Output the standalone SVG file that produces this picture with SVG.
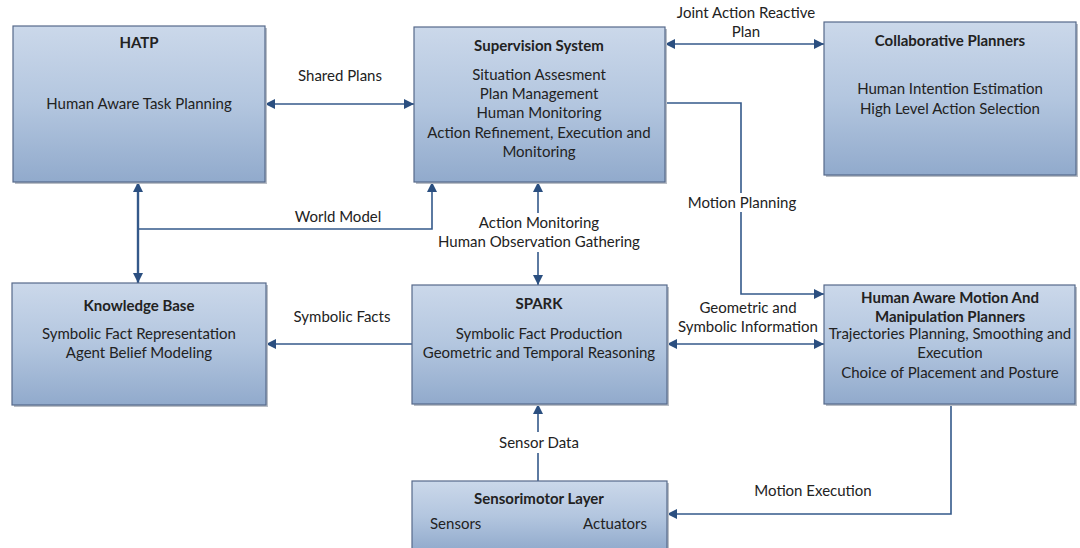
<svg xmlns="http://www.w3.org/2000/svg" width="1080" height="548" viewBox="0 0 1080 548">
<style>
.box{fill:url(#g);stroke:#56698a;stroke-width:1.2}
.sh{fill:#b9bec6}
.t{font-family:Lato,"Open Sans",sans-serif;font-size:15px;fill:#222;text-anchor:middle}
.b{font-weight:bold}
.c{fill:none;stroke:#34598a;stroke-width:1.6}
.k{stroke-width:2.4}
</style>
<defs>
<linearGradient id="g" x1="0" y1="0" x2="0" y2="1">
<stop offset="0" stop-color="#cbd8ea"/>
<stop offset="0.5" stop-color="#b3c6df"/>
<stop offset="1" stop-color="#91aacc"/>
</linearGradient>
<marker id="a2" viewBox="0 0 10 10" refX="10" refY="5" markerWidth="10" markerHeight="10" orient="auto-start-reverse" markerUnits="userSpaceOnUse">
<path d="M0,0 L10,5 L0,10 z" fill="#2b4f80"/>
</marker>
</defs>
<rect width="1080" height="548" fill="#ffffff"/>

<g id="connectors">
<path class="c" d="M265,104 H414" marker-start="url(#a2)" marker-end="url(#a2)"/>
<path class="c" d="M665,44 H824" marker-start="url(#a2)" marker-end="url(#a2)"/>
<path class="c" d="M665,103 H741 V193"/>
<path class="c" d="M741,212 V294 H824" marker-end="url(#a2)"/>
<path class="c k" d="M138,182 V283" marker-start="url(#a2)" marker-end="url(#a2)"/>
<path class="c" d="M138,229 H432 V182" marker-end="url(#a2)"/>
<path class="c" d="M538,213 V182" marker-end="url(#a2)"/>
<path class="c" d="M538,252 V285" marker-end="url(#a2)"/>
<path class="c" d="M412,344 H266" marker-end="url(#a2)"/>
<path class="c" d="M667,344 H824" marker-start="url(#a2)" marker-end="url(#a2)"/>
<path class="c" d="M538,481 V453"/>
<path class="c" d="M538,432 V404" marker-end="url(#a2)"/>
<path class="c" d="M951,404 V514 H667" marker-end="url(#a2)"/>
<text class="t" x="340" y="81">Shared Plans</text>
<text class="t" x="746" y="18">Joint Action Reactive</text>
<text class="t" x="746" y="37">Plan</text>
<text class="t" x="742" y="208">Motion Planning</text>
<text class="t" x="338" y="222">World Model</text>
<text class="t" x="539" y="228">Action Monitoring</text>
<text class="t" x="539" y="247">Human Observation Gathering</text>
<text class="t" x="342" y="322">Symbolic Facts</text>
<text class="t" x="748" y="313">Geometric and</text>
<text class="t" x="748" y="332">Symbolic Information</text>
<text class="t" x="539" y="448">Sensor Data</text>
<text class="t" x="813" y="496">Motion Execution</text>
</g>

<g id="hatp">
<rect class="sh" x="15" y="28" width="252" height="156"/>
<rect class="box" x="13" y="26" width="252" height="156"/>
<text class="t b" x="139" y="48">HATP</text>
<text class="t" x="139" y="109">Human Aware Task Planning</text>
</g>

<g id="supervision">
<rect class="sh" x="416" y="29" width="251" height="155"/>
<rect class="box" x="414" y="27" width="251" height="155"/>
<text class="t b" x="539" y="51">Supervision System</text>
<text class="t" x="539" y="80">Situation Assesment</text>
<text class="t" x="539" y="99">Plan Management</text>
<text class="t" x="539" y="118">Human Monitoring</text>
<text class="t" x="539" y="138">Action Refinement, Execution and</text>
<text class="t" x="539" y="157">Monitoring</text>
</g>

<g id="collaborative">
<rect class="sh" x="826" y="24" width="252" height="153"/>
<rect class="box" x="824" y="22" width="252" height="153"/>
<text class="t b" x="950" y="46">Collaborative Planners</text>
<text class="t" x="950" y="94">Human Intention Estimation</text>
<text class="t" x="950" y="114">High Level Action Selection</text>
</g>

<g id="knowledge">
<rect class="sh" x="14" y="285" width="254" height="122"/>
<rect class="box" x="12" y="283" width="254" height="122"/>
<text class="t b" x="139" y="311">Knowledge Base</text>
<text class="t" x="139" y="339">Symbolic Fact Representation</text>
<text class="t" x="139" y="358">Agent Belief Modeling</text>
</g>

<g id="spark">
<rect class="sh" x="414" y="287" width="255" height="119"/>
<rect class="box" x="412" y="285" width="255" height="119"/>
<text class="t b" x="539" y="309">SPARK</text>
<text class="t" x="539" y="339">Symbolic Fact Production</text>
<text class="t" x="539" y="358">Geometric and Temporal Reasoning</text>
</g>

<g id="hamp">
<rect class="sh" x="826" y="287" width="251" height="119"/>
<rect class="box" x="824" y="285" width="251" height="119"/>
<text class="t b" x="950" y="303">Human Aware Motion And</text>
<text class="t b" x="950" y="322">Manipulation Planners</text>
<text class="t" x="950" y="339">Trajectories Planning, Smoothing and</text>
<text class="t" x="950" y="358">Execution</text>
<text class="t" x="950" y="378">Choice of Placement and Posture</text>
</g>

<g id="sensorimotor">
<rect class="sh" x="414" y="483" width="255" height="70"/>
<rect class="box" x="412" y="481" width="255" height="70"/>
<text class="t b" x="539" y="504">Sensorimotor Layer</text>
<text class="t" x="430" y="529" style="text-anchor:start">Sensors</text>
<text class="t" x="647" y="529" style="text-anchor:end">Actuators</text>
</g>
</svg>
